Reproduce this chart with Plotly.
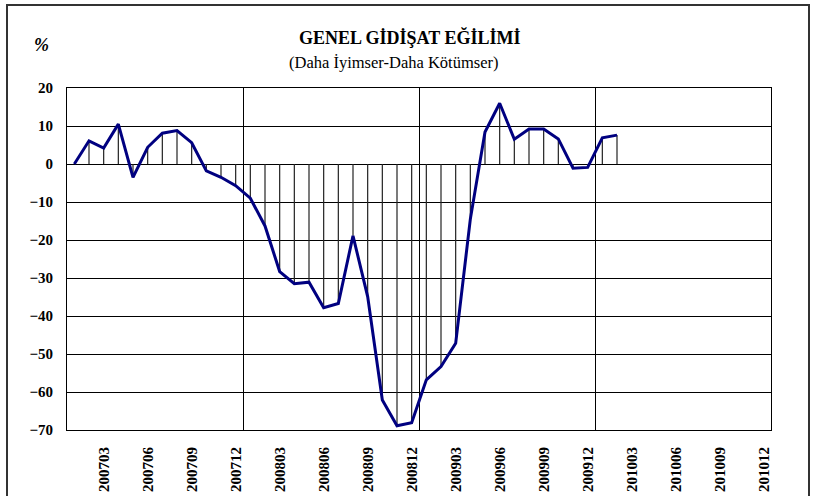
import plotly.graph_objects as go

months = [f"{y}{m:02d}" for y in (2007, 2008, 2009, 2010) for m in range(1, 13)]
values = [0.0, 6.1, 4.2, 10.5, -3.5, 4.4, 8.1, 8.8, 5.6, -1.8, -3.5, -5.7,
          -9.0, -16.3, -28.3, -31.5, -31.1, -37.8, -36.7, -18.9, -34.9, -62.1, -68.9, -68.1,
          -56.8, -53.3, -47.2, -14.5, 8.4, 16.0, 6.5, 9.2, 9.2, 6.6, -1.1, -0.9, 6.9, 7.6]
series = values + [None] * (len(months) - len(values))
tick_labels = [m for m in months if int(m[-2:]) % 3 == 0]
tick_idx = [i for i, m in enumerate(months) if int(m[-2:]) % 3 == 0]
year_bounds = [i + 0.5 for i, m in enumerate(months[:-1]) if m.endswith("12")]

idx = list(range(len(values)))
fig = go.Figure()
# drop lines to zero
fig.add_trace(go.Scatter(
    x=idx, y=values, mode="markers", marker=dict(size=0.1, color="black"),
    error_y=dict(type="data", symmetric=False,
                 array=[max(-v, 0) for v in values],
                 arrayminus=[max(v, 0) for v in values],
                 width=0, thickness=1.2, color="#222222"),
    hoverinfo="skip", showlegend=False))
fig.add_trace(go.Scatter(
    x=list(range(len(months))), y=series, mode="lines",
    line=dict(color="#000080", width=3), showlegend=False))

serif = "Liberation Serif"
fig.update_layout(
    width=819, height=496,
    margin=dict(l=67, r=48, t=88, b=66),
    paper_bgcolor="white", plot_bgcolor="white",
    font=dict(family=serif, color="black"),
    xaxis=dict(range=[-0.5, len(months) - 0.5], tickmode="array",
               tickvals=tick_idx, ticktext=[f"<b>{t}</b>" for t in tick_labels],
               tickangle=-90,
               tickfont=dict(size=15, family=serif),
               showgrid=False, zeroline=False, showline=True, mirror=True,
               linecolor="black", linewidth=1, ticks="", ticklabelstandoff=10,
               automargin=False,
               minor=dict(tickvals=year_bounds, showgrid=True,
                          gridcolor="black", gridwidth=1, ticks="")),
    yaxis=dict(range=[-70, 20], dtick=10, tick0=0,
               tickfont=dict(size=15, family=serif, weight="bold"),
               showgrid=True, gridcolor="black", gridwidth=1,
               zeroline=True, zerolinecolor="black", zerolinewidth=1,
               showline=True, mirror=True, linecolor="black", linewidth=1,
               ticks="", ticklabelstandoff=10, automargin=False),
    annotations=[
        dict(text="<b>GENEL GİDİŞAT EĞİLİMİ</b>", x=0.487, y=1.149,
             xref="paper", yref="paper", showarrow=False,
             xanchor="center", yanchor="middle",
             font=dict(size=18, family=serif)),
        dict(text="(Daha İyimser-Daha Kötümser)", x=0.465, y=1.076,
             xref="paper", yref="paper", showarrow=False,
             xanchor="center", yanchor="middle",
             font=dict(size=16.5, family=serif)),
        dict(text="%", x=-0.036, y=1.126,
             xref="paper", yref="paper", showarrow=False,
             xanchor="center", yanchor="middle",
             font=dict(size=18, family=serif, weight="bold", style="italic")),
    ],
    shapes=[dict(type="rect", xref="paper", yref="paper",
                 x0=(7 - 67) / 704, x1=(809 - 67) / 704,
                 y0=-0.5, y1=(430 - 5) / 342,
                 line=dict(color="#333333", width=2))],
)
fig.write_html("out.html", config={"displayModeBar": False},
               post_script="document.body.style.margin='0';")
